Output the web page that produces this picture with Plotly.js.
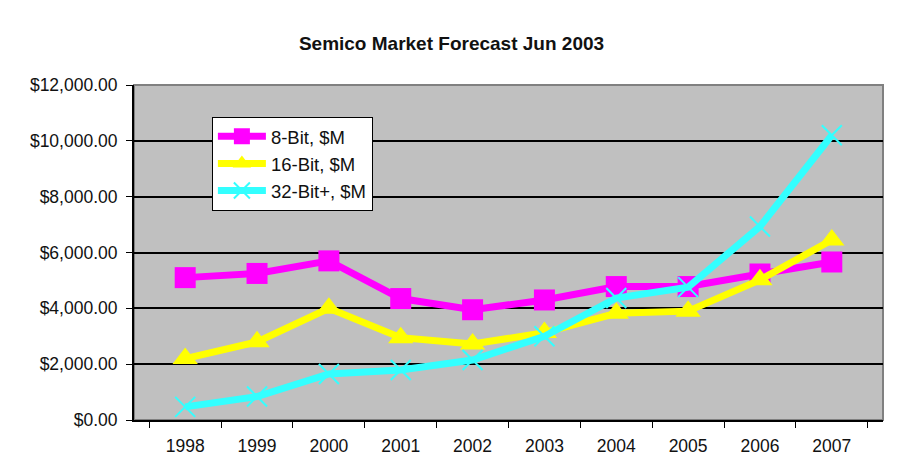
<!DOCTYPE html>
<html><head><meta charset="utf-8">
<script src="https://cdn.plot.ly/plotly-3.0.1.min.js"></script>
<style>html,body{margin:0;padding:0;background:#fff;}</style>
</head><body><div id="chart" style="width:903px;height:467px;"></div>
<script>
const years = ["1998","1999","2000","2001","2002","2003","2004","2005","2006","2007"];
const bit8 = [5100, 5250, 5700, 4350, 3950, 4300, 4780, 4780, 5230, 5660];
const bit16 = [2200, 2800, 4000, 2950, 2720, 3130, 3820, 3900, 5020, 6450];
const bit32 = [470, 840, 1650, 1790, 2150, 3000, 4370, 4760, 6930, 10200];
const names = ["8-Bit, $M", "16-Bit, $M", "32-Bit+, $M"];

const traces = [
  {x: years, y: bit8, name: names[0], type: 'scatter', mode: 'lines+markers',
   line: {color: '#FF00FF', width: 7},
   marker: {symbol: 'square', size: 21, color: '#FF00FF'}},
  {x: years, y: bit16, name: names[1], type: 'scatter', mode: 'lines+markers',
   line: {color: '#FFFF00', width: 7},
   marker: {symbol: 'triangle-up', size: 22, color: '#FFFF00'}},
  {x: years, y: bit32, name: names[2], type: 'scatter', mode: 'lines+markers',
   line: {color: '#33FFFF', width: 7},
   marker: {symbol: 'x-thin', size: 20, color: '#33FFFF', line: {color: '#33FFFF', width: 2}}}
];

const layout = {
  width: 903, height: 467,
  margin: {l: 134, r: 20, t: 85, b: 47},
  paper_bgcolor: '#ffffff', plot_bgcolor: '#C0C0C0',
  font: {family: 'Arial, "Liberation Sans", sans-serif', color: '#111', size: 17},
  title: {text: '<b>Semico Market Forecast Jun 2003</b>', x: 0.5, xanchor: 'center',
          y: 0.907, yanchor: 'middle', font: {size: 19, color: '#111'}},
  xaxis: {type: 'category', tickson: 'boundaries', ticks: 'outside', ticklen: 6,
          tickcolor: '#000', showline: true, linecolor: '#000', linewidth: 2,
          showgrid: false, tickfont: {size: 17.5}, fixedrange: true, ticklabelstandoff: 9},
  yaxis: {range: [0, 12000], dtick: 2000, tickformat: '$,.2f', ticks: 'outside',
          ticklen: 6, tickcolor: '#000', showline: true, linecolor: '#000', linewidth: 2,
          showgrid: true, gridcolor: '#000', gridwidth: 2, zeroline: false,
          tickfont: {size: 17.5}, fixedrange: true, ticklabelstandoff: 5},
  shapes: [{type: 'rect', xref: 'paper', yref: 'paper', x0: 0, x1: 1, y0: 0, y1: 1,
            line: {color: '#808080', width: 2}, layer: 'below'}],
  legend: {x: 0.104, y: 0.905, xanchor: 'left', yanchor: 'top', bgcolor: '#ffffff',
           bordercolor: '#000', borderwidth: 1, font: {size: 18.5}, tracegroupgap: 0,
           itemwidth: 48},
  showlegend: true
};
Plotly.newPlot('chart', traces, layout, {displayModeBar: false, staticPlot: true});
</script></body></html>
